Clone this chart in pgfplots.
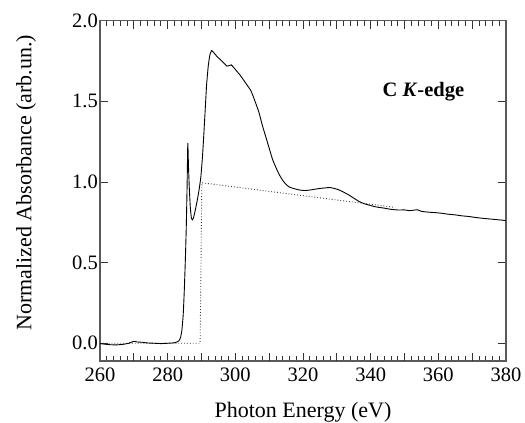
\documentclass[border=0pt]{standalone}
\usepackage{fontspec}
\setmainfont{Liberation Serif}
\usepackage{pgfplots}
\pgfplotsset{compat=1.18}

\begin{document}
\fontsize{20.5}{24}\selectfont
\begin{tikzpicture}
\begin{axis}[
  name=main, scale only axis, width=406pt, height=340.3pt,
  xmin=260, xmax=380, ymin=-0.11, ymax=2.0,
  xtick={260,280,...,380}, minor x tick num=9,
  ytick={0,0.5,1.0,1.5,2.0}, minor y tick num=0,
  extra x ticks={270,290,310,330,350,370}, extra x tick labels={},
  extra x tick style={major tick length=8pt, tick style={black!80}},
  tick align=inside, major tick length=8pt, minor tick length=5pt,
  tick style={black!80, line width=0.8pt},
  axis line style={black!65, line width=1.3pt},
  yticklabel style={/pgf/number format/fixed, /pgf/number format/precision=1,
    /pgf/number format/fixed zerofill, inner xsep=2pt},
  /pgf/number format/assume math mode=true,
  xlabel={Photon Energy (eV)}, ylabel={Normalized Absorbance (arb.un.)},
  label style={font=\fontsize{22}{26}\selectfont},
  xlabel style={yshift=-7pt},
  ylabel shift=27pt,
  ylabel style={at={(ticklabel cs:0.524)}},
  clip=false,
]
% reference step (edge jump) line
\addplot[black!75, dotted, line width=0.9pt] coordinates {
  (260,0) (289.6,0) (290.1,0.995) (347,0.843)
};
% measured spectrum
\addplot[black, line width=0.9pt, smooth, tension=0.3] coordinates {
  (260.0,-0.002) (261.5,-0.006) (263,-0.009) (265,-0.010) (267,-0.006)
  (268.5,0.000) (270,0.012) (271,0.008) (272.5,0.006) (274,0.002)
  (276,0.000) (278,-0.002) (280,0.000) (281.5,0.002) (282.5,0.006)
  (283.3,0.015) (283.8,0.035) (284.2,0.08) (284.6,0.18) (284.9,0.32)
  (285.2,0.50) (285.5,0.72) (285.75,0.98) (285.95,1.24) (286.15,1.10)
  (286.4,0.96) (286.7,0.84) (287.0,0.78) (287.3,0.765) (287.6,0.775)
  (288.0,0.81) (288.6,0.87) (289.2,0.94) (289.8,1.03) (290.3,1.16)
  (290.7,1.30) (291.1,1.45) (291.5,1.60) (292.0,1.72) (292.5,1.79)
  (293.0,1.815) (293.5,1.805) (294.5,1.78) (295.5,1.76) (296.5,1.74)
  (297.5,1.718) (298.2,1.722) (298.8,1.726) (299.5,1.71) (300.3,1.69)
  (301.5,1.66) (302.5,1.63) (303.5,1.60) (304.5,1.57) (305.3,1.53)
  (306.0,1.49) (307.0,1.43) (308.0,1.35) (309.0,1.28) (310.0,1.21)
  (311.0,1.14) (312.0,1.09) (313.0,1.045) (314.0,1.01) (315.0,0.985)
  (316.0,0.968) (317.5,0.958) (319.0,0.950) (320.5,0.947) (322.0,0.950)
  (323.5,0.955) (325.0,0.960) (326.5,0.963) (328.0,0.966) (329.5,0.958)
  (330.5,0.952) (332.0,0.937) (333.5,0.920) (335.0,0.900) (336.5,0.880)
  (338.0,0.866) (339.5,0.857) (341.0,0.848) (342.5,0.842) (344.0,0.838)
  (345.5,0.832) (347.0,0.828) (348.5,0.826) (350.0,0.827) (351.5,0.822)
  (353.0,0.826) (353.8,0.828) (355.0,0.818) (357.0,0.813) (359.0,0.810)
  (361.0,0.806) (363.0,0.800) (365.0,0.796) (367.0,0.790) (369.0,0.786)
  (371.0,0.780) (373.0,0.775) (375.0,0.771) (377.0,0.767) (379.0,0.763)
  (380.0,0.760)
};
\node[font=\bfseries] at (axis cs:355.6,1.56) {C \textit{K}-edge};
\end{axis}
\pgfresetboundingbox
\path (main.south west) ++(-100pt,-62pt) rectangle ++(525pt,423pt);
\end{tikzpicture}
\end{document}
